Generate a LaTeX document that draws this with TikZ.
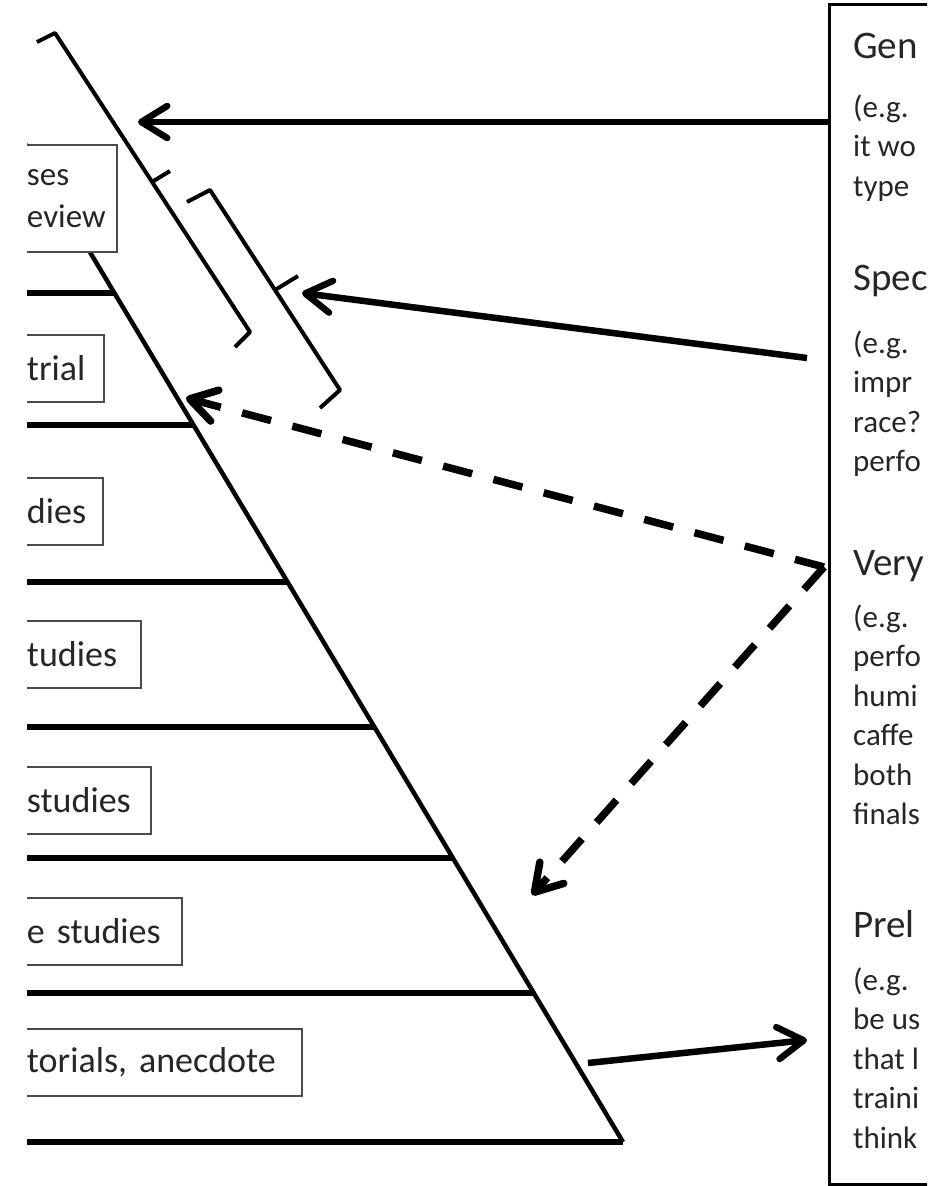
\documentclass[tikz,border=0pt]{standalone}
\usepackage{fontspec}
\setmainfont{Carlito}
\usetikzlibrary{arrows.meta}
\tikzset{every node/.style={text=black!85}}
\tikzset{level/.style={draw=black!70,line width=2pt,fill=white,anchor=east,align=left,inner xsep=10pt,inner ysep=0pt,minimum height=67pt,text width=#1,font=\fontsize{36}{42}\selectfont}}
\tikzset{rung/.style={line width=6.5pt}}
\tikzset{side/.style={line width=4.5pt}}
\tikzset{brace/.style={line width=4pt,line join=round}}
\tikzset{head/.style={anchor=base west,inner sep=0pt,font=\fontsize{39}{42}\selectfont}}
\tikzset{body/.style={anchor=base west,inner sep=0pt,align=left,font=\fontsize{31}{39.5}\selectfont}}
\tikzset{pointer/.style={line width=6.5pt,-{Straight Barb[length=26pt,width=32pt,round]}}}
\tikzset{maybe/.style={pointer,line width=7.5pt,dash pattern=on 30pt off 22pt}}

\begin{document}
\begin{tikzpicture}[x=1pt,y=-1pt]
\useasboundingbox (0,0) rectangle (927,1186);
\clip (27,0) rectangle (927,1186);

\draw[side] (0,102) -- (623,1142);
\foreach \y in {293,425,582,727,858,993,1142}
  \draw[rung] (0,\y) -- ({623-0.599*(1142-\y)},\y);

\node[level=80pt,minimum height=107pt,font=\fontsize{33}{42}\selectfont] (meta) at (118,198.5) {ses\\eview};
\node[level=67pt] (trial) at (105,368.5) {trial};
\node[level=66pt] (cohort) at (104,511) {dies};
\node[level=104pt] (casectl) at (142,654) {tudies};
\node[level=114pt] (cross) at (152,800) {studies};
\node[level=145pt] (single) at (183,931) {e studies};
\node[level=265pt] (opinion) at (303,1062.5) {torials, anecdote};

\draw[brace] (37,42) -- (55,33) -- (250,332) -- (235,347);
\draw[brace] (152,182) -- (170,171);
\draw[brace] (187,202) -- (210,190) -- (340,390) -- (320,408);
\draw[brace] (275,290) -- (298,276);

\node[draw=black,line width=3pt,anchor=north west,minimum width=300pt,minimum height=1180pt] (notes) at (828,3) {};
\node[head] (gen) at (853,58) {Gen};
\node[body] (gentxt) at (853,196) {(e.g.\\it wo\\type};
\node[head] (spec) at (853,290) {Spec};
\node[body] (spectxt) at (853,471.5) {(e.g.\\impr\\race?\\perfo};
\node[head] (very) at (853,575) {Very};
\node[body] (verytxt) at (853,824.5) {(e.g.\\perfo\\humi\\caffe\\both\\finals};
\node[head] (prel) at (853,937) {Prel};
\node[body] (preltxt) at (853,1148) {(e.g.\\be us\\that l\\traini\\think};

\coordinate (gtip) at (138,122);
\coordinate (ssrc) at (807,358);
\coordinate (stip) at (302,293);
\coordinate (vsrc) at (824,567);
\coordinate (vtip1) at (186,398);
\coordinate (vtip2) at (532,895);
\coordinate (psrc) at (588,1063);
\coordinate (ptip) at (807,1040);
\draw[pointer] (notes.west |- gtip) -- (gtip);
\draw[pointer] (ssrc) -- (stip);
\draw[maybe] (vsrc) -- (vtip1);
\draw[maybe] (vsrc) -- (vtip2);
\draw[pointer] (psrc) -- (ptip);
\end{tikzpicture}
\end{document}
